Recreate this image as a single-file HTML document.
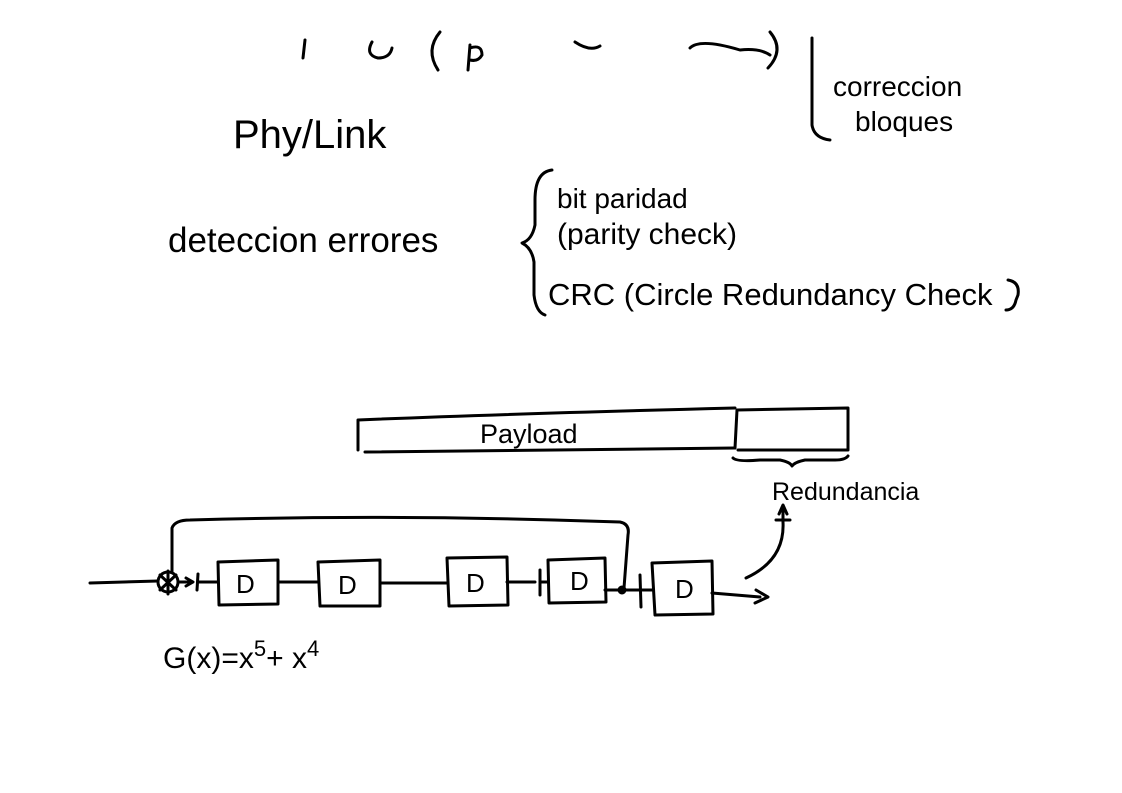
<!DOCTYPE html>
<html><head><meta charset="utf-8"><style>
html,body{margin:0;padding:0;background:#fff;}
svg{display:block;}
text{font-family:"Liberation Sans",sans-serif;fill:#000;}
</style></head><body>
<svg width="1122" height="793" viewBox="0 0 1122 793" xmlns="http://www.w3.org/2000/svg">
<g fill="none" stroke="#000" stroke-width="3" stroke-linecap="round" stroke-linejoin="round">
<path d="M305 40 L303 58"/>
<path d="M372 42 Q365 55 378 58 Q390 58 392 48"/>
<path d="M440 32 Q425 50 438 70"/>
<path d="M470 45 L468 70 M470 48 Q482 44 482 55 Q478 62 470 60"/>
<path d="M575 42 Q590 52 600 46"/>
<path d="M690 48 Q700 38 740 50 Q760 48 770 55"/>
<path d="M770 32 Q785 50 768 68"/>
<path d="M812 38 L812 125 Q814 138 830 140"/>
<path d="M552 170 Q535 172 535 200 L535 225 Q532 240 522 243 Q532 248 534 262 L534 295 Q536 312 545 315"/>
<path d="M1008 280 Q1020 282 1018 295 L1016 300 Q1014 310 1006 310"/>
<path d="M358 420 L358 450 M358 420 Q500 414 735 408 M365 452 Q550 450 735 448"/>
<path d="M737 410 L735 448 M737 410 L848 408 L848 450 L738 450"/>
<path d="M733 458 Q737 462 760 460 L780 460 Q790 462 792 466 Q795 462 805 460 L835 460 Q845 460 848 456"/>
<path d="M746 578 Q785 560 783 522 L783 508"/>
<path d="M776 520 L790 520 M779 514 L783 505 L787 514"/>
<path d="M90 583 L158 581"/>
<circle cx="168" cy="582" r="10"/>
<path d="M160 575 L176 590 M176 575 L160 590 M168 571 L168 594"/>
<path d="M178 582 L190 582 M186 578 L193 582 L186 586"/>
<path d="M198 574 L197 590 M198 582 L217 582"/>
<path d="M218 562 L278 560 L278 604 L219 605 Z"/>
<path d="M278 582 L318 582"/>
<path d="M318 562 L380 560 L380 606 L320 606 Z"/>
<path d="M380 583 L447 583"/>
<path d="M447 558 L507 557 L508 605 L449 606 Z"/>
<path d="M507 582 L535 582 M540 570 L540 595 M540 582 L548 582"/>
<path d="M548 560 L605 558 L606 602 L549 603 Z"/>
<path d="M605 590 L640 590 M640 575 L641 607 M641 590 L652 590"/>
<path d="M652 563 L712 561 L713 614 L655 615 Z"/>
<circle cx="622" cy="590" r="3" fill="#000"/>
<path d="M172 572 L172 528 Q175 520 190 520 Q400 514 620 522 Q630 524 628 535 L624 588"/>
<path d="M712 593 L760 597 M756 590 L768 597 L755 603"/>
</g>
<text x="833" y="96" font-size="28">correccion</text>
<text x="855" y="131" font-size="28">bloques</text>
<text x="233" y="148" font-size="40">Phy/Link</text>
<text x="168" y="252" font-size="35">deteccion errores</text>
<text x="557" y="208" font-size="28">bit paridad</text>
<text x="557" y="244" font-size="30">(parity check)</text>
<text x="548" y="305" font-size="31">CRC (Circle Redundancy Check</text>
<text x="480" y="443" font-size="27">Payload</text>
<text x="772" y="500" font-size="25">Redundancia</text>
<text x="236" y="593" font-size="26">D</text>
<text x="338" y="594" font-size="26">D</text>
<text x="466" y="592" font-size="26">D</text>
<text x="570" y="590" font-size="26">D</text>
<text x="675" y="598" font-size="26">D</text>
<text x="163" y="668" font-size="30">G(x)=x<tspan font-size="22" dy="-12">5</tspan><tspan dy="12">+ x</tspan><tspan font-size="22" dy="-12">4</tspan></text>
</svg>
</body></html>
